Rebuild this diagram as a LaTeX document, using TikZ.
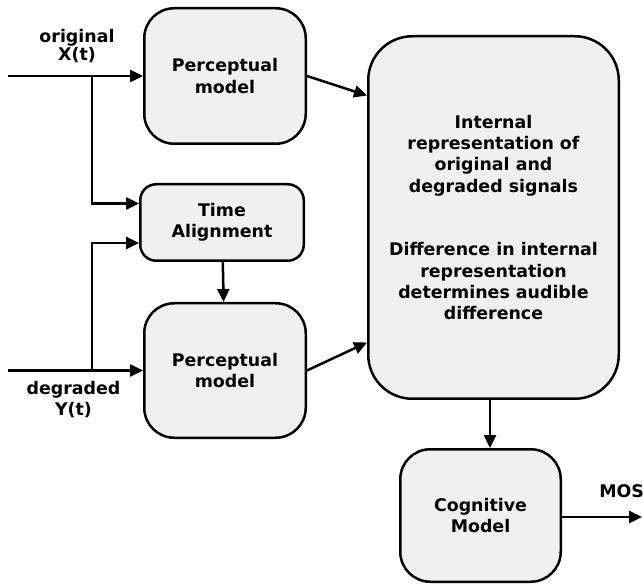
\documentclass[tikz,border=0pt]{standalone}
\usepackage{fontspec}
\setmainfont{DejaVu Sans}
\usetikzlibrary{arrows.meta,positioning}

\begin{document}
\begin{tikzpicture}[x=1pt,y=-1pt,line width=2.5pt,
  >={Triangle[length=13pt,width=12pt]},
  block/.style={draw,fill=black!6,rounded corners=30pt,align=center,
    inner sep=0pt,font=\bfseries\fontsize{17.4}{21.3}\selectfont},
  lbl/.style={align=center,inner sep=0pt,font=\bfseries\fontsize{17.4}{21.3}\selectfont}]
  \useasboundingbox (0,0) rectangle (643,585);
  \node[block,minimum width=161.5,minimum height=135.5] (perc1) at (225,76) {Perceptual\\model};
  \node[block,minimum width=163.5,minimum height=76.5,rounded corners=16pt] (align) at (222,222.5) {Time\\Alignment};
  \node[block,minimum width=161.5,minimum height=134.5] (perc2) at (225,370.5) {Perceptual\\model};
  \node[block,minimum width=250.5,minimum height=362.5,rounded corners=44pt] (intrep) at (493.5,217.5)
    {Internal\\representation of\\original and\\degraded signals\\[42.6pt]Difference in internal\\representation\\determines audible\\difference};
  \node[block,minimum width=160.5,minimum height=132.5] (cogn) at (480.5,515.5) {Cognitive\\Model};
  \node[lbl,font=\bfseries\fontsize{17.4}{14.5}\selectfont] (origlbl) at (77,46) {original\\X(t)};
  \node[lbl] (degrlbl) at (73.5,399.5) {degraded\\Y(t)};
  \node[lbl,anchor=base west] (moslbl) at (598,497) {MOS};
  \coordinate (in_x) at (8,76);
  \coordinate (in_y) at (8,370.5);
  \coordinate (split_x) at (92,76);
  \coordinate (split_y) at (92,370.5);
  \coordinate (mos_out) at (642,517);
  \draw[->] (in_x) -- (perc1);
  \draw[->] (split_x) |- ([yshift=19pt]align.west);
  \draw[->] (in_y) -- (perc2);
  \draw[->] (split_y) |- ([yshift=-20.5pt]align.west);
  \draw[->] (align) -- (perc2);
  \draw[->] (perc1.east) -- ([yshift=122pt]intrep.west);
  \draw[->] (perc2.east) -- ([yshift=-125pt]intrep.west);
  \draw[->] ([xshift=-3.5pt]intrep.south) -- ([xshift=-3.5pt]intrep.south |- cogn.north);
  \draw[->] (cogn.east |- mos_out) -- (mos_out);
\end{tikzpicture}
\end{document}
